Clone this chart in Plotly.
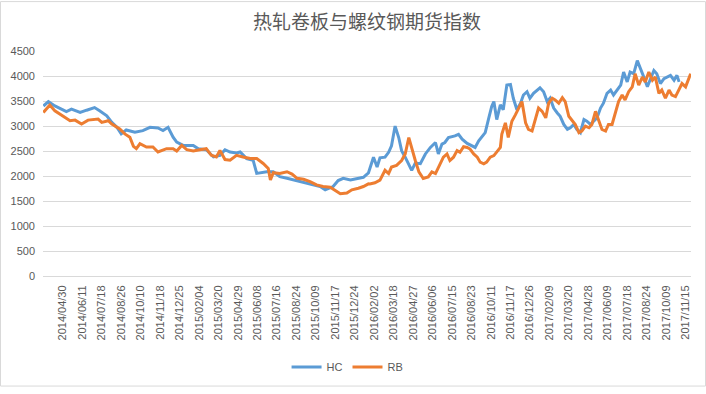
import plotly.graph_objects as go

# trading-day index (0 = 2014/03/21) and index values
hc_day = [0, 7, 16, 23, 32, 39, 51, 60, 71, 78, 88, 95, 102, 108, 115, 127, 138, 148, 159, 166,
          173, 180, 185, 194, 208, 215, 226, 236, 245, 252, 259, 268, 273, 282, 291, 296, 303, 310,
          319, 328, 338, 347, 356, 365, 375, 384, 391, 398, 402, 409, 416, 426, 435, 444, 451,
          458, 463, 467, 474, 479, 483, 488, 493, 497, 502, 507, 511, 516, 523, 530, 537, 544,
          548, 553, 557, 562, 567, 571, 576, 581, 588, 595, 599, 604, 608, 613, 618, 622, 625,
          629, 634, 638, 643, 648, 652, 657, 662, 666, 671, 675, 680, 685, 689, 694, 699, 703,
          708, 713, 717, 722, 727, 731, 736, 740, 745, 750, 754, 759, 763, 768, 773, 777, 782,
          787, 791, 796, 801, 805, 810, 814, 819, 824, 828, 833, 838, 842, 847, 851, 856, 861,
          865, 870, 875, 879, 882]
hc_val = [3400, 3487, 3401, 3355, 3289, 3336, 3270, 3316, 3368, 3303, 3204, 3072, 2974, 2842, 2921,
          2875, 2908, 2974, 2960, 2908, 2974, 2776, 2678, 2612, 2612, 2546, 2526, 2381, 2414, 2526,
          2480, 2460, 2480, 2349, 2316, 2052, 2066, 2085, 2085, 1987, 1954, 1921, 1888, 1855, 1822,
          1789, 1723, 1756, 1789, 1908, 1954, 1921, 1954, 1974, 2061, 2376, 2179, 2363, 2376, 2474,
          2605, 2998, 2769, 2507, 2376, 2245, 2114, 2258, 2245, 2441, 2572, 2670, 2441, 2638, 2670,
          2769, 2782, 2801, 2834, 2736, 2651, 2605, 2572, 2703, 2769, 2867, 3162, 3391, 3489, 3129,
          3424, 3325, 3817, 3830, 3555, 3325, 3456, 3620, 3686, 3555, 3653, 3718, 3764, 3686, 3489,
          3555, 3358, 3260, 3194, 3031, 2932, 2965, 3031, 2932, 2867, 3129, 3096, 3031, 3096, 3162,
          3358, 3456, 3653, 3718, 3620, 3718, 3817, 4079, 3882, 4079, 4046, 4308, 4177, 3980, 3784,
          3948, 4111, 4046, 3849, 3948, 3980, 4013, 3915, 4013, 3882]

rb_day = [0, 9, 16, 27, 37, 44, 53, 62, 76, 81, 90, 95, 106, 113, 120, 125, 129, 134, 143, 152,
          159, 171, 180, 185, 192, 199, 208, 217, 226, 233, 240, 245, 252, 259, 268, 277, 287, 296,
          305, 312, 315, 319, 328, 338, 345, 352, 361, 370, 379, 388, 398, 405, 412, 421, 428, 437,
          444, 451, 453, 460, 467, 474, 479, 483, 490, 497, 502, 507, 511, 516, 521, 527, 534, 539,
          544, 548, 555, 560, 564, 569, 574, 578, 583, 588, 592, 597, 602, 606, 611, 615, 620, 625,
          629, 634, 636, 641, 645, 650, 655, 659, 664, 669, 673, 678, 683, 687, 692, 697, 701, 706,
          710, 715, 720, 724, 729, 734, 738, 743, 747, 752, 757, 761, 766, 770, 775, 780, 784, 789,
          793, 798, 803, 807, 812, 817, 821, 826, 831, 835, 840, 845, 849, 854, 858, 863, 868, 872,
          877, 882, 886, 891, 896, 898]
rb_val = [3270, 3421, 3303, 3204, 3105, 3118, 3039, 3118, 3138, 3072, 3105, 3039, 2941, 2842, 2776,
          2592, 2546, 2645, 2579, 2579, 2480, 2546, 2546, 2500, 2612, 2526, 2500, 2526, 2546, 2414,
          2381, 2513, 2329, 2316, 2414, 2381, 2349, 2349, 2250, 2151, 1921, 2066, 2052, 2085, 2039,
          1954, 1934, 1888, 1822, 1789, 1776, 1710, 1644, 1658, 1723, 1756, 1789, 1842, 1839, 1865,
          1917, 2114, 2048, 2179, 2212, 2310, 2441, 2769, 2539, 2310, 2081, 1950, 1983, 2081, 2048,
          2179, 2376, 2441, 2310, 2376, 2507, 2474, 2585, 2572, 2539, 2441, 2376, 2277, 2245, 2277,
          2376, 2408, 2474, 2572, 2834, 3063, 2769, 3096, 3227, 3358, 3489, 3063, 2932, 2900, 3162,
          3358, 3293, 3162, 3456, 3555, 3522, 3456, 3568, 3489, 3194, 3096, 3031, 2867, 2900, 2998,
          2965, 3031, 3293, 3129, 2932, 2900, 3031, 3031, 3227, 3489, 3620, 3522, 3686, 3784, 4046,
          3817, 3980, 3882, 4079, 3915, 3980, 3653, 3718, 3555, 3718, 3620, 3588, 3751, 3849, 3784,
          3948, 4046]

tick_day = [27 * (k + 1) for k in range(33)]
tick_labels = ["2014/04/30", "2014/06/11", "2014/07/18", "2014/08/26", "2014/10/10", "2014/11/18",
               "2014/12/25", "2015/02/04", "2015/03/20", "2015/04/29", "2015/06/08", "2015/07/16",
               "2015/08/24", "2015/10/09", "2015/11/17", "2015/12/24", "2016/02/02", "2016/03/18",
               "2016/04/27", "2016/06/06", "2016/07/15", "2016/08/23", "2016/10/11", "2016/11/17",
               "2016/12/26", "2017/02/09", "2017/03/20", "2017/04/28", "2017/06/09", "2017/07/18",
               "2017/08/24", "2017/10/09", "2017/11/15"]

title = "热轧卷板与螺纹钢期货指数"
grey = "#595959"
font = "Liberation Sans, Arial, sans-serif"

fig = go.Figure()
fig.add_trace(go.Scatter(x=hc_day, y=hc_val, name="HC", mode="lines",
                         line=dict(color="#5B9BD5", width=3)))
fig.add_trace(go.Scatter(x=rb_day, y=rb_val, name="RB", mode="lines",
                         line=dict(color="#ED7D31", width=3)))

fig.update_layout(
    width=706, height=394,
    paper_bgcolor="white", plot_bgcolor="white",
    margin=dict(l=43, r=15, t=51, b=113),
    title=dict(text=title, x=0.5, xref="paper", xanchor="center", y=1 - 22 / 394, yanchor="middle",
               font=dict(family="Noto Sans CJK SC", size=19, color=grey)),
    font=dict(family=font, size=11, color=grey),
    showlegend=True,
    legend=dict(orientation="h", x=0.47, xanchor="center", y=(281 - 374) / 230, yanchor="middle",
                font=dict(size=11, color=grey), itemwidth=30, bgcolor="rgba(0,0,0,0)"),
    xaxis=dict(range=[-0.5, 898.5], tickmode="array", tickvals=tick_day, ticktext=tick_labels,
               tickangle=-90, showgrid=False, zeroline=False, showline=True, linecolor="#D9D9D9",
               linewidth=1, ticks="", tickfont=dict(size=11, color=grey), ticklabelstandoff=4),
    yaxis=dict(range=[0, 4500], dtick=500, showgrid=True, gridcolor="#D9D9D9", gridwidth=1,
               zeroline=False, showline=False, ticks="", tickfont=dict(size=11, color=grey),
               ticklabelstandoff=7),
    shapes=[dict(type="rect", xref="paper", yref="paper",
                 x0=(0.5 - 43) / 648, x1=(705.5 - 43) / 648,
                 y0=(281 - 393.5) / 230, y1=(281 - 0.5) / 230,
                 line=dict(color="#D9D9D9", width=1), fillcolor="rgba(0,0,0,0)", layer="below")],
)

fig.write_html("out.html", config={"displayModeBar": False},
               post_script="document.body.style.margin='0';document.body.style.overflow='hidden';")
